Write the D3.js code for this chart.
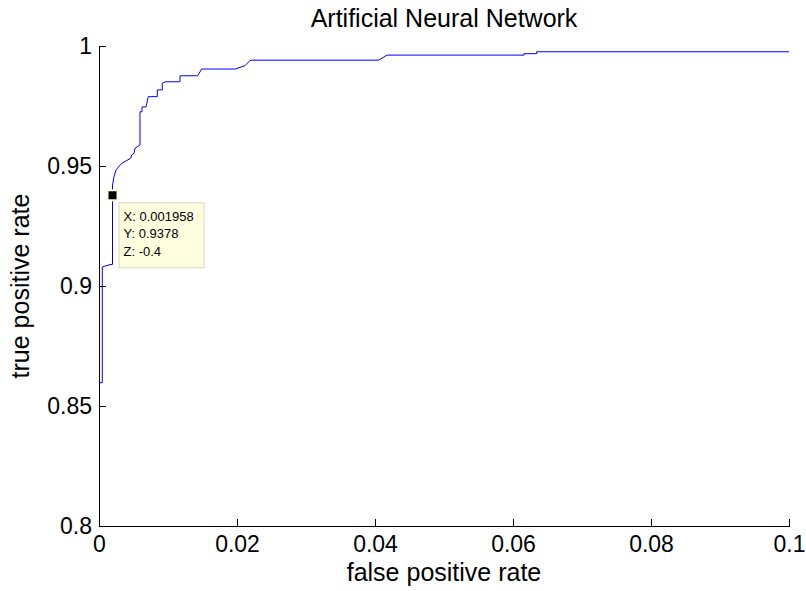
<!DOCTYPE html>
<html lang="en">
<head>
<meta charset="UTF-8">
<title>Artificial Neural Network</title>
<style>
  body { margin: 0; background: #fff; }
  text { font-family: "Liberation Sans", Arial, sans-serif; fill: #000; }
</style>
</head>
<body>
<script src="https://cdn.jsdelivr.net/npm/d3@7"></script>
<script>
// ROC curve points
var fpr = [0, 0.00048, 0.00048, 0.00087, 0.00174, 0.001958, 0.001958, 0.00217, 0.00246, 0.00265,
           0.00294, 0.00329, 0.00459, 0.00474, 0.00507, 0.00522, 0.00594, 0.00594, 0.00623, 0.00623,
           0.00681, 0.00714, 0.00845, 0.00845, 0.00917, 0.00917, 0.00957, 0.01174, 0.01174, 0.01430,
           0.01488, 0.01971, 0.02043, 0.02116, 0.02188, 0.02217, 0.04050, 0.04101, 0.04174, 0.06159,
           0.06159, 0.06343, 0.06343, 0.1];
var tpr = [0.8597, 0.8597, 0.9079, 0.9083, 0.9090, 0.9090, 0.9421, 0.9455, 0.9483, 0.9490,
           0.9500, 0.9511, 0.9532, 0.9546, 0.9553, 0.9574, 0.9588, 0.9726, 0.9726, 0.9746,
           0.9746, 0.9789, 0.9789, 0.9817, 0.9817, 0.9845, 0.9851, 0.9851, 0.9876, 0.9876,
           0.9904, 0.9904, 0.9911, 0.9918, 0.9939, 0.9941, 0.9941, 0.9949, 0.9962, 0.9962,
           0.9968, 0.9968, 0.9976, 0.9976];
var xTicks = [0, 0.02, 0.04, 0.06, 0.08, 0.1];
var yTicks = [0.8, 0.85, 0.9, 0.95, 1];
var tipPoint = [0.001958, 0.9378];
var tipLines = ["X: 0.001958", "Y: 0.9378", "Z: -0.4"];

var width = 806, height = 591;
var margin = {left: 99, right: 17, top: 46, bottom: 65};

var svg = d3.select('body').append('svg')
    .attr('width', width).attr('height', height);

var x = d3.scaleLinear().domain([0, 0.1]).range([margin.left, width - margin.right]);
var y = d3.scaleLinear().domain([0.8, 1]).range([height - margin.bottom, margin.top]);

// axes: only left and bottom, ticks pointing inward
var xAxis = d3.axisBottom(x).tickValues(xTicks).tickSizeInner(-7).tickSizeOuter(0)
    .tickPadding(10).tickFormat(d3.format('~g'));
var yAxis = d3.axisLeft(y).tickValues(yTicks).tickSizeInner(-7).tickSizeOuter(0)
    .tickPadding(7).tickFormat(d3.format('~g'));

var gx = svg.append('g').attr('transform', 'translate(0,' + (height - margin.bottom) + ')').call(xAxis);
var gy = svg.append('g').attr('transform', 'translate(' + margin.left + ',0)').call(yAxis);
[gx, gy].forEach(function(g) {
  g.selectAll('path,line').attr('stroke', '#000').attr('shape-rendering', 'crispEdges');
  g.selectAll('text').style('font-size', '23px').attr('fill', '#000');
});
gx.selectAll('text').attr('dy', '0.71em');

// curve
var line = d3.line().x(function(d, i) { return x(fpr[i]); }).y(function(d) { return y(d); });
svg.append('path').datum(tpr)
    .attr('d', line)
    .attr('fill', 'none')
    .attr('stroke', '#0000ff')
    .attr('stroke-width', 1);

// title and labels
svg.append('text').attr('x', (x(0) + x(0.1)) / 2).attr('y', 27)
    .attr('text-anchor', 'middle').style('font-size', '25px').text('Artificial Neural Network');
svg.append('text').attr('x', (x(0) + x(0.1)) / 2).attr('y', 581)
    .attr('text-anchor', 'middle').style('font-size', '25px').text('false positive rate');
svg.append('text').attr('transform', 'translate(29,' + ((y(0.8) + y(1)) / 2) + ') rotate(-90)')
    .attr('text-anchor', 'middle').style('font-size', '25px').text('true positive rate');

// data tip
var tx = x(tipPoint[0]), ty = y(tipPoint[1]);
svg.append('rect').attr('x', tx - 6).attr('y', ty - 6).attr('width', 12).attr('height', 12)
    .attr('fill', '#ffffe0');
svg.append('rect').attr('x', tx - 4).attr('y', ty - 4).attr('width', 8).attr('height', 8)
    .attr('fill', '#000');
var tip = svg.append('g').attr('transform', 'translate(' + (tx + 6) + ',' + (ty + 7) + ')');
tip.append('rect').attr('x', 0.5).attr('y', 0.5).attr('width', 85).attr('height', 65)
    .attr('fill', '#ffffe0').attr('stroke', '#d8d6c0');
tip.selectAll('text.tip').data(tipLines).enter().append('text')
    .attr('class', 'tip')
    .attr('x', 5).attr('y', function(d, i) { return 19 + i * 17.2; })
    .style('font-size', '13px')
    .text(function(d) { return d; });
</script>
</body>
</html>
